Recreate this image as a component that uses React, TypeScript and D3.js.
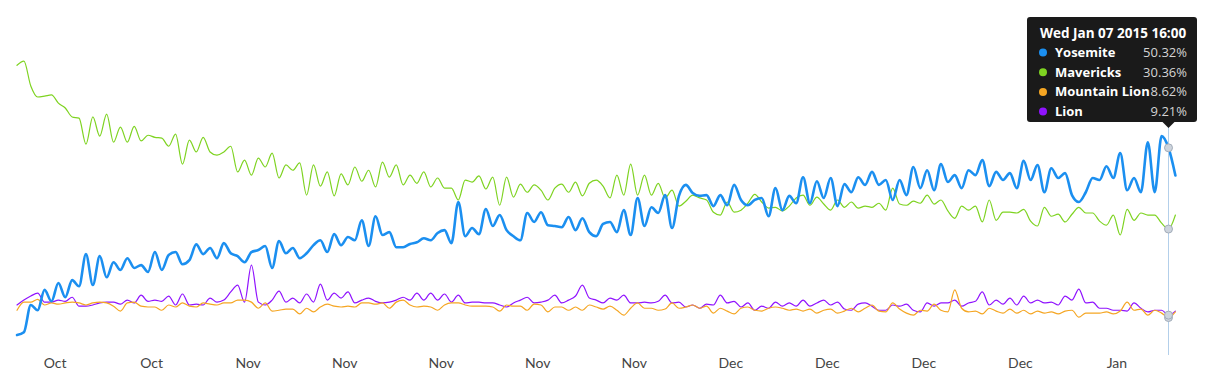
import React from 'react';
import * as d3 from 'd3';

// x categories: 12-hourly samples
const startDate = new Date(Date.UTC(2014, 9, 16, 4));
const stopDate = new Date(Date.UTC(2015, 0, 8, 5));
const dates: Date[] = d3.utcHour.range(startDate, stopDate, 12);

const tickDates = ['2014-10-19', '2014-10-26', '2014-11-02', '2014-11-09', '2014-11-16', '2014-11-23', '2014-11-30', '2014-12-07', '2014-12-14', '2014-12-21', '2014-12-28', '2015-01-04'];

const yosemite = [4.3, 5.0, 11.7, 10.4, 15.4, 12.6, 17.1, 13.6, 17.8, 16.3,
  24.2, 16.6, 23.7, 18.5, 22.2, 20.3, 23.2, 20.8, 21.5, 19.8,
  24.7, 20.3, 24.0, 24.7, 21.7, 22.7, 26.6, 24.2, 25.7, 23.2,
  26.9, 24.4, 23.7, 22.2, 24.7, 25.2, 26.2, 20.8, 27.4, 24.4,
  25.7, 23.2, 24.4, 26.4, 27.6, 24.7, 29.1, 26.4, 28.4, 27.6,
  32.5, 26.2, 33.5, 28.9, 29.6, 25.9, 25.9, 26.7, 27.1, 28.1,
  27.6, 29.4, 30.1, 26.9, 37.0, 28.6, 30.6, 29.1, 35.3, 31.1,
  33.8, 30.1, 28.6, 27.6, 34.3, 32.1, 34.5, 31.3, 31.1, 30.8,
  33.3, 30.1, 33.0, 29.6, 28.6, 31.6, 32.1, 29.6, 35.0, 28.9,
  38.0, 31.1, 35.7, 34.3, 38.7, 30.6, 38.5, 41.2, 39.2, 38.5,
  38.7, 36.0, 38.7, 36.2, 41.2, 37.5, 36.2, 37.5, 38.0, 33.5,
  40.4, 35.0, 38.5, 36.7, 43.1, 36.7, 42.1, 38.0, 42.9, 36.0,
  41.4, 39.4, 43.1, 41.2, 44.4, 41.2, 42.4, 37.5, 42.4, 38.7,
  45.6, 40.4, 44.8, 39.9, 46.3, 41.9, 43.6, 40.4, 44.8, 43.6,
  47.3, 40.9, 44.4, 42.4, 44.1, 40.4, 47.1, 42.4, 46.1, 39.4,
  45.3, 42.9, 44.1, 38.7, 37.0, 39.4, 42.9, 42.4, 45.8, 42.9,
  49.0, 39.9, 42.9, 39.4, 51.7, 39.4, 53.2, 50.32, 43.5];

const mavericks = [70.6, 71.6, 65.5, 62.8, 63.0, 63.3, 61.3, 60.1, 57.9, 57.6,
  51.2, 57.9, 53.2, 58.6, 51.7, 55.4, 51.7, 55.6, 52.0, 53.4,
  52.9, 52.7, 50.7, 53.7, 46.3, 52.2, 49.3, 52.9, 49.3, 48.5,
  49.3, 50.7, 44.4, 47.3, 43.6, 47.8, 45.6, 49.0, 42.9, 46.1,
  44.8, 46.6, 38.7, 46.1, 40.9, 44.4, 38.5, 43.9, 41.2, 45.6,
  42.1, 44.8, 40.7, 46.8, 43.1, 46.1, 41.2, 43.6, 41.6, 44.4,
  40.7, 42.9, 40.4, 40.4, 37.5, 42.4, 41.9, 43.4, 40.2, 43.1,
  36.2, 43.1, 38.2, 41.4, 39.4, 41.2, 39.9, 37.5, 40.4, 41.4,
  39.4, 41.9, 38.5, 41.6, 42.4, 40.9, 38.0, 43.6, 38.7, 46.3,
  38.7, 43.6, 38.7, 41.6, 38.0, 39.9, 36.0, 37.2, 38.7, 38.0,
  37.5, 34.5, 33.8, 37.0, 34.5, 35.0, 36.7, 38.9, 37.0, 35.5,
  35.7, 34.8, 36.0, 38.0, 38.7, 36.2, 38.2, 36.5, 35.0, 37.5,
  35.7, 37.0, 35.5, 36.0, 35.7, 36.7, 35.0, 40.4, 36.5, 36.2,
  37.2, 36.7, 38.7, 36.5, 37.5, 34.8, 33.0, 36.0, 35.0, 36.0,
  32.1, 37.5, 32.5, 34.5, 34.5, 34.3, 35.2, 32.3, 31.1, 35.7,
  33.5, 34.0, 32.1, 34.0, 35.7, 34.3, 34.3, 32.3, 31.3, 33.8,
  28.9, 35.2, 32.5, 34.3, 33.8, 33.8, 31.8, 30.36, 33.8];

const mountainLion = [10.4, 12.4, 12.4, 13.1, 11.7, 12.2, 11.9, 12.2, 12.4, 12.2,
  11.7, 12.2, 12.4, 12.2, 11.4, 10.2, 12.2, 12.4, 11.4, 11.2,
  11.2, 10.4, 11.7, 11.2, 12.2, 11.4, 11.2, 12.2, 11.9, 11.7,
  12.2, 12.2, 12.9, 12.9, 12.4, 10.9, 12.2, 10.2, 10.4, 10.7,
  10.7, 9.5, 10.9, 10.0, 11.2, 11.9, 11.4, 11.2, 11.4, 11.2,
  12.2, 12.2, 11.9, 12.2, 10.9, 12.4, 12.9, 11.7, 11.2, 11.4,
  11.2, 10.4, 11.7, 12.2, 12.2, 11.7, 11.4, 11.4, 11.4, 11.2,
  10.2, 11.7, 11.4, 11.4, 10.4, 11.9, 11.7, 10.0, 11.2, 11.2,
  10.4, 11.2, 10.4, 11.7, 11.2, 10.7, 11.4, 10.4, 9.2, 10.9,
  12.2, 10.9, 10.9, 10.4, 10.7, 12.2, 10.9, 11.2, 11.7, 10.9,
  11.4, 9.7, 10.9, 10.2, 9.5, 10.9, 11.2, 10.4, 10.2, 10.9,
  11.2, 10.9, 10.4, 10.7, 10.2, 10.7, 9.7, 10.4, 10.7, 9.7,
  10.2, 10.9, 10.0, 10.9, 11.7, 10.2, 10.0, 12.2, 10.7, 9.7,
  9.2, 10.4, 10.2, 11.9, 10.4, 10.0, 15.4, 10.9, 10.0, 10.2,
  9.5, 10.9, 10.2, 9.7, 10.7, 9.7, 10.4, 9.5, 10.2, 9.7,
  10.0, 9.5, 10.2, 10.4, 8.7, 9.7, 9.7, 9.7, 10.0, 9.5,
  10.2, 12.4, 10.4, 10.7, 9.2, 10.4, 9.7, 8.62, 10.0];

const lion = [11.7, 12.9, 13.9, 14.6, 12.4, 12.4, 12.9, 12.6, 13.6, 11.4,
  11.4, 11.7, 12.2, 12.4, 12.4, 11.9, 12.9, 12.2, 14.1, 12.6,
  12.9, 12.6, 13.9, 11.7, 14.4, 11.7, 11.9, 11.7, 13.4, 12.4,
  12.9, 14.9, 16.6, 12.4, 21.5, 12.4, 11.7, 12.9, 15.1, 12.4,
  13.4, 12.2, 14.4, 12.4, 16.8, 12.9, 14.6, 13.4, 14.9, 12.2,
  12.9, 13.4, 12.6, 12.2, 12.4, 12.9, 13.6, 12.9, 14.6, 12.9,
  14.6, 12.9, 14.4, 12.4, 14.1, 12.2, 12.4, 12.4, 12.2, 12.2,
  11.7, 11.2, 12.2, 12.9, 13.6, 12.2, 12.4, 12.9, 14.1, 12.2,
  12.9, 13.9, 16.6, 13.4, 12.9, 12.2, 13.4, 12.9, 14.1, 12.2,
  12.2, 12.4, 12.2, 12.6, 14.1, 12.2, 12.4, 11.2, 11.7, 10.9,
  11.9, 11.7, 14.1, 12.2, 12.6, 11.2, 12.2, 10.4, 11.4, 10.9,
  12.4, 11.4, 12.2, 11.4, 12.9, 11.4, 12.2, 12.9, 11.7, 12.4,
  10.7, 10.4, 11.9, 12.2, 11.4, 10.4, 10.4, 11.7, 11.4, 11.9,
  10.4, 10.0, 12.2, 11.4, 12.2, 12.2, 12.9, 11.4, 12.2, 12.6,
  14.9, 11.7, 12.9, 11.9, 13.4, 11.7, 13.9, 12.2, 12.9, 12.2,
  12.4, 11.7, 13.9, 12.9, 15.6, 12.2, 12.4, 10.9, 10.9, 10.4,
  10.4, 10.2, 12.2, 10.9, 10.0, 10.4, 10.4, 9.21, 10.2];

const seriesNames = ['Yosemite', 'Mavericks', 'Mountain Lion', 'Lion'];
const seriesValues = [yosemite, mavericks, mountainLion, lion];
const seriesColors = ['#1b8ff0', '#7ed321', '#f5a623', '#9013fe'];
const seriesWidths = [2.6, 1.2, 1.2, 1.2];
const drawOrder = [1, 3, 2, 0];
const hoverIndex = 167;

const W = 1216;
const H = 379;
const FONT = "Lato, 'Open Sans', 'DejaVu Sans', sans-serif";
const TIP_FONT = "'Open Sans', Lato, 'DejaVu Sans', sans-serif";

export default function App() {
  const x = d3.scaleUtc()
    .domain([dates[0], dates[dates.length - 1]])
    .range([17, 1175.4]);
  const y = d3.scaleLinear().domain([0, 70]).range([352.6, 67.7]);

  const line = d3.line<number>()
    .x((_, i) => x(dates[i]))
    .y((d) => y(d))
    .curve(d3.curveMonotoneX);

  const fmtTick = d3.utcFormat('%b');
  const fmtTitle = d3.utcFormat('%a %b %d %Y %H:%M');
  const hx = x(dates[hoverIndex]);

  const boxX = 1027;
  const boxY = 17;
  const boxW = 170;
  const boxH = 105;

  return (
    <svg width={W} height={H} style={{ position: 'absolute', left: 0, top: 0, background: '#fff' }} fontFamily={FONT}>
      {drawOrder.map((si) => (
        <path key={seriesNames[si]} d={line(seriesValues[si]) || ''} fill="none"
          stroke={seriesColors[si]} strokeWidth={seriesWidths[si]}
          strokeLinejoin="round" strokeLinecap="round" />
      ))}

      {tickDates.map((t, i) => (
        <text key={i} x={x(new Date(t)) - 1} y={368} textAnchor="middle" fontSize={14} fill="#444">
          {fmtTick(new Date(t))}
        </text>
      ))}

      <line x1={hx} x2={hx} y1={127} y2={355} stroke="#b3cfea" strokeWidth={1} />
      {seriesValues.map((vals, si) => (
        <circle key={si} cx={hx} cy={y(vals[hoverIndex])} r={4} fill="#cdd4dd" stroke="#a2acb9" strokeWidth={1} />
      ))}

      <g fontFamily={TIP_FONT}>
        <rect x={boxX} y={boxY} width={boxW} height={boxH} rx={3} fill="#111" fillOpacity={0.96} />
        <path d={`M${hx - 6},${boxY + boxH} L${hx + 6},${boxY + boxH} L${hx},${boxY + boxH + 6} Z`} fill="#111" fillOpacity={0.96} />
        <text x={1040} y={38} fontSize={13.5} fontWeight="bold" fill="#fff">
          {fmtTitle(dates[hoverIndex])}
        </text>
        {seriesNames.map((name, i) => {
          const by = 57 + i * 19.7;
          return (
            <g key={name}>
              <circle cx={1043} cy={by - 4.5} r={4} fill={seriesColors[i]} />
              <text x={1055} y={by} fontSize={13} fontWeight="bold" fill="#fff">{name}</text>
              <text x={1187} y={by} fontSize={13} fill="#d4d4d4" textAnchor="end">
                {seriesValues[i][hoverIndex].toFixed(2)}%
              </text>
            </g>
          );
        })}
      </g>
    </svg>
  );
}
